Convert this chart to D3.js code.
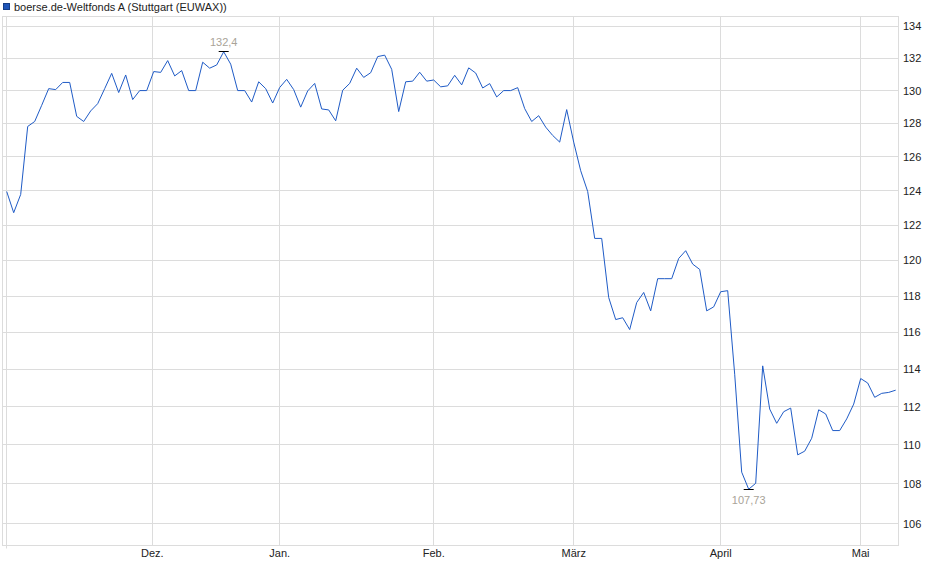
<!DOCTYPE html>
<html>
<head>
<meta charset="utf-8">
<script src="https://cdn.jsdelivr.net/npm/d3@7"></script>
<style>
  html, body { margin: 0; padding: 0; background: #fff; }
  svg text { font-family: "Liberation Sans", Arial, sans-serif; }
</style>
</head>
<body>
<div id="chart"></div>
<script>
// Kursverlauf boerse.de-Weltfonds A, Handelsplatz Stuttgart (EUWAX)

const seriesName = 'boerse.de-Weltfonds A (Stuttgart (EUWAX))';

// one value per trading day
const closePrices = [
  123.96, 122.73, 123.79, 127.82, 128.12, 129.10, 130.12, 130.06, 130.50, 130.50,
  128.43, 128.12, 128.76, 129.20, 130.12, 131.06, 129.88, 130.96, 129.45, 130.00,
  130.00, 131.17, 131.12, 131.85, 130.90, 131.23, 130.00, 130.00, 131.75, 131.38,
  131.58, 132.40, 131.63, 130.00, 130.00, 129.30, 130.54, 130.12, 129.24, 130.19,
  130.69, 130.06, 128.99, 129.98, 130.44, 128.88, 128.82, 128.16, 130.02, 130.44,
  131.38, 130.81, 131.10, 132.10, 132.19, 131.31, 128.72, 130.54, 130.58, 131.13,
  130.58, 130.65, 130.23, 130.29, 130.94, 130.35, 131.40, 131.08, 130.16, 130.43,
  129.61, 130.00, 130.00, 130.18, 128.90, 128.12, 128.47, 127.78, 127.28, 126.88,
  128.84, 126.88, 125.18, 123.96, 121.25, 121.25, 117.92, 116.70, 116.80, 116.15,
  117.64, 118.20, 117.18, 118.97, 118.97, 118.97, 120.11, 120.55, 119.79, 119.49,
  117.18, 117.40, 118.24, 118.30, 113.73, 108.60, 107.73, 108.03, 114.18, 111.88,
  111.13, 111.74, 111.93, 109.49, 109.68, 110.35, 111.84, 111.62, 110.75, 110.75,
  111.36, 112.14, 113.50, 113.26, 112.50, 112.71, 112.76, 112.88
];

// month starts, given as trading-day position
const monthTickPositions = [0, 20.8, 39, 61, 81, 102, 122];
const monthTickLabels = ['', 'Dez.', 'Jan.', 'Feb.', 'März', 'April', 'Mai'];

const priceTicks = [106, 108, 110, 112, 114, 116, 118, 120, 122, 124, 126, 128, 130, 132, 134];

/**
 * Format a number German style (comma as decimal separator)
 */
function formatDe(v) {
  return String(v).replace('.', ',');
}

/**
 * Draw the price chart
 */
function drawPriceChart() {
  const width = 940;
  const height = 579;
  const plot = { left: 2.5, right: 898.5, top: 16.5, bottom: 545.5 };
  const gridColor = '#dcdcdc';
  const lineColor = '#1f5bc6';
  const labelColor = '#222';

  const svg = d3.select('#chart')
    .append('svg')
    .attr('width', width)
    .attr('height', height);

  // x: trading day index, y: logarithmic price axis
  const x = d3.scaleLinear()
    .domain([-0.6, closePrices.length - 0.6])
    .range([plot.left, plot.right]);

  const y = d3.scaleLog()
    .domain([104.91, 134.62])
    .range([plot.bottom, plot.top]);

  const crisp = v => Math.floor(v) + 0.5;

  // horizontal grid lines
  svg.append('g')
    .attr('class', 'y-grid')
    .selectAll('line')
    .data(priceTicks)
    .enter()
    .append('line')
    .attr('x1', plot.left)
    .attr('x2', plot.right)
    .attr('y1', d => crisp(y(d)))
    .attr('y2', d => crisp(y(d)))
    .attr('stroke', gridColor)
    .attr('stroke-width', 1);

  // vertical grid lines at month starts
  svg.append('g')
    .attr('class', 'x-grid')
    .selectAll('line')
    .data(monthTickPositions)
    .enter()
    .append('line')
    .attr('x1', d => crisp(x(d)))
    .attr('x2', d => crisp(x(d)))
    .attr('y1', plot.top)
    .attr('y2', (d, i) => i === 0 ? plot.bottom + 3 : plot.bottom)
    .attr('stroke', gridColor)
    .attr('stroke-width', 1);

  // plot frame
  svg.append('rect')
    .attr('x', plot.left)
    .attr('y', plot.top)
    .attr('width', plot.right - plot.left)
    .attr('height', plot.bottom - plot.top)
    .attr('fill', 'none')
    .attr('stroke', gridColor)
    .attr('stroke-width', 1);

  // right axis labels
  svg.append('g')
    .attr('class', 'y-axis')
    .selectAll('text')
    .data(priceTicks)
    .enter()
    .append('text')
    .attr('x', 903)
    .attr('y', d => y(d))
    .attr('dy', '0.36em')
    .style('font-size', '11px')
    .style('fill', labelColor)
    .text(d => d);

  // month labels
  svg.append('g')
    .attr('class', 'x-axis')
    .selectAll('text')
    .data(monthTickPositions)
    .enter()
    .append('text')
    .attr('x', d => x(d))
    .attr('y', 557)
    .attr('text-anchor', 'middle')
    .style('font-size', '11px')
    .style('fill', labelColor)
    .text((d, i) => monthTickLabels[i]);

  // price line
  const line = d3.line()
    .x((d, i) => x(i))
    .y(d => y(d));

  svg.append('path')
    .datum(closePrices)
    .attr('fill', 'none')
    .attr('stroke', lineColor)
    .attr('stroke-width', 1)
    .attr('stroke-linejoin', 'round')
    .attr('d', line);

  // high / low markers
  const maxIdx = d3.maxIndex(closePrices);
  const minIdx = d3.minIndex(closePrices);
  const markers = [
    { idx: maxIdx, dy: -6 },
    { idx: minIdx, dy: 15 }
  ];

  markers.forEach(m => {
    const px = x(m.idx);
    const py = y(closePrices[m.idx]);

    svg.append('line')
      .attr('x1', px - 5)
      .attr('x2', px + 5)
      .attr('y1', crisp(py))
      .attr('y2', crisp(py))
      .attr('stroke', '#000')
      .attr('stroke-width', 1);

    svg.append('text')
      .attr('x', px)
      .attr('y', py + m.dy)
      .attr('text-anchor', 'middle')
      .style('font-size', '11px')
      .style('fill', '#a9a398')
      .text(formatDe(closePrices[m.idx]));
  });

  // legend
  const legend = svg.append('g')
    .attr('class', 'legend');

  legend.append('rect')
    .attr('x', 3.5)
    .attr('y', 3.5)
    .attr('width', 6)
    .attr('height', 6)
    .attr('fill', '#1f55b8')
    .attr('stroke', '#163e86')
    .attr('stroke-width', 1);

  legend.append('text')
    .attr('x', 14)
    .attr('y', 11)
    .style('font-size', '11px')
    .style('fill', labelColor)
    .text(seriesName);
}

drawPriceChart();
</script>
</body>
</html>
